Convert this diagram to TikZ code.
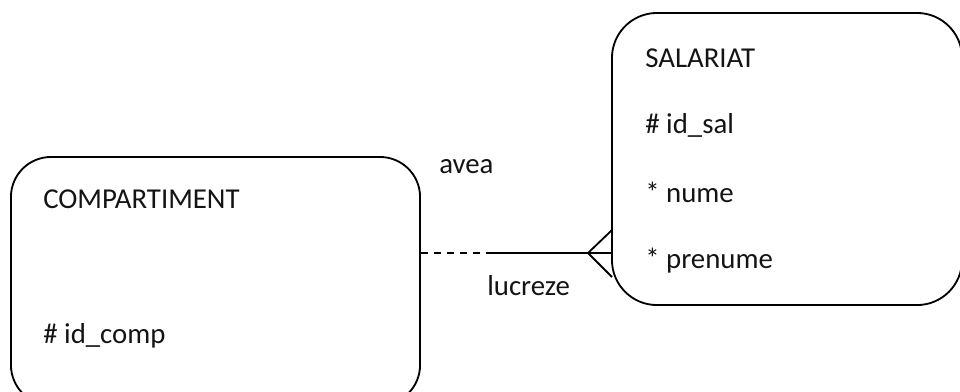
\documentclass[tikz,border=0pt]{standalone}
\usepackage{fontspec}
\setmainfont{Carlito}
\definecolor{LineColor}{RGB}{0,0,0}
\definecolor{TextColor}{RGB}{20,20,20}
\usepackage{tikz}
\usetikzlibrary{positioning, calc}
\tikzstyle{rel} = [line width=1.3pt, LineColor]
\tikzstyle{rel dashed} = [rel, dash pattern=on 5pt off 4.2pt]
\tikzset{
  entity/.style={draw=LineColor, line width=1.3pt, rectangle, inner sep=0pt},
  attr/.style={anchor=base west, inner sep=0pt, text=TextColor, font=\fontsize{20.5}{24}\selectfont},
  rel label/.style={attr}
}

\begin{document}
\begin{tikzpicture}[x=0.025cm, y=-0.025cm]
    \useasboundingbox (0,0) rectangle (960,391);
    \clip (0,0) rectangle (960,391);

    % Entities
    \node[entity, rounded corners=1cm, minimum width=10.225cm, minimum height=6.2cm] (comp) at (215.5,281) {};
    \node[entity, rounded corners=1.125cm, minimum width=8.75cm, minimum height=7.3cm] (sal) at (787,159) {};

    % Attributes
    \node[attr] (compname) at (43,208) {COMPARTIMENT};
    \node[attr] (idcomp) at (43,343) {\# id\_comp};
    \node[attr] (salname) at (645,67) {SALARIAT};
    \node[attr] (idsal) at (645,133) {\# id\_sal};
    \node[attr] (nume) at (645,202) {* nume};
    \node[attr] (prenume) at (645,268) {* prenume};

    % Relationship
    \coordinate (mid) at (490,253);
    \coordinate (foot) at (588,253);
    \coordinate (footup) at (612,230);
    \coordinate (footdown) at (612,277);
    \draw[rel dashed] (comp.east |- mid) -- (mid);
    \draw[rel] (mid) -- (sal.west |- mid);
    \draw[rel] (footup) -- (foot) -- (footdown);

    \node[rel label] (avea) at (439,173) {avea};
    \node[rel label] (lucreze) at (487,295) {lucreze};
\end{tikzpicture}
\end{document}
